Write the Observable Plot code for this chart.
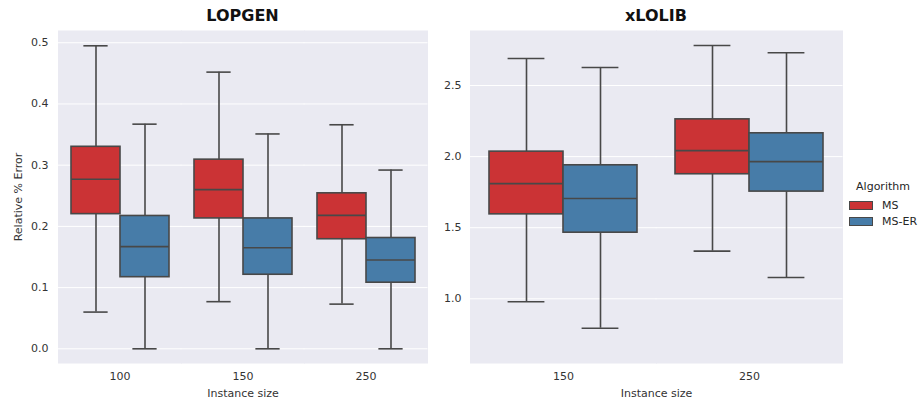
<!DOCTYPE html>
<html>
<head>
<meta charset="utf-8">
<script src="https://cdn.jsdelivr.net/npm/d3@7"></script>
<script src="https://cdn.jsdelivr.net/npm/@observablehq/plot@0.6"></script>
<style>
  body { margin: 0; background: white; font-family: "DejaVu Sans", sans-serif; }
  #wrap { position: relative; width: 919px; height: 402px; overflow: hidden; }
  .panel { position: absolute; top: 0; }
  .title { position: absolute; top: 6px; font: bold 16px "DejaVu Sans", sans-serif; line-height: 20px; text-align: center; color: #111; }
  .legend-title { position: absolute; left: 848px; top: 180px; width: 70px; text-align: center; font-size: 11px; line-height: 14px; color: #262626; }
  .legend-row { position: absolute; left: 849px; height: 14px; display: flex; align-items: center; font-size: 11px; color: #262626; }
  .sw { width: 24px; height: 9px; box-sizing: border-box; border: 1px solid #484848; margin-right: 9px; }
</style>
</head>
<body>
<div id="wrap"></div>
<script>
// ---- data ----
const algorithms = ["MS", "MS-ER"];
const lopgenSizes = ["100", "150", "250"];
const xlolibSizes = ["150", "250"];
// [lower whisker, Q1, median, Q3, upper whisker]
const lopgenMS   = [[0.060, 0.220, 0.277, 0.330, 0.495],
                    [0.077, 0.213, 0.260, 0.309, 0.452],
                    [0.073, 0.179, 0.218, 0.254, 0.366]];
const lopgenMSER = [[0.000, 0.117, 0.167, 0.217, 0.367],
                    [0.000, 0.121, 0.165, 0.213, 0.351],
                    [0.000, 0.108, 0.145, 0.181, 0.292]];
const xlolibMS   = [[0.979, 1.594, 1.810, 2.035, 2.690],
                    [1.335, 1.876, 2.042, 2.262, 2.781]];
const xlolibMSER = [[0.793, 1.465, 1.705, 1.939, 2.627],
                    [1.150, 1.754, 1.965, 2.164, 2.730]];
const lopgenTicks = [0.0, 0.1, 0.2, 0.3, 0.4, 0.5];
const xlolibTicks = [1.0, 1.5, 2.0, 2.5];
const titles = ["LOPGEN", "xLOLIB"];
const yTitle = "Relative % Error";
const xTitle = "Instance size";
const legendTitle = "Algorithm";

// ---- style ----
const colors = ["#cb3335", "#477ca8"];
const bg = "#eaeaf2";
const lineColor = "#484848";

function panel({sizes, ms, mser, domain, ticks, width, marginLeft, marginRight, yLabel, tickPadding}) {
  const rows = [];
  sizes.forEach((s, i) => {
    [[algorithms[0], ms[i]], [algorithms[1], mser[i]]].forEach(([alg, v]) =>
      rows.push({size: s, alg, lo: v[0], q1: v[1], med: v[2], q3: v[3], hi: v[4]}));
  });
  const frameW = width - marginLeft - marginRight;
  const inset = frameW / sizes.length * 0.4 / 4;
  const common = {fx: "size", x: "alg", stroke: lineColor, strokeWidth: 1.6};
  return Plot.plot({
    width, height: 402,
    marginTop: 30, marginBottom: 39, marginLeft, marginRight,
    style: {fontFamily: "DejaVu Sans", fontSize: "11px", color: "#333", background: "white", overflow: "visible"},
    fx: {domain: sizes, padding: 0, axis: "bottom", tickSize: 0, tickPadding: 9,
         label: xTitle, labelAnchor: "center", labelOffset: 33, labelArrow: "none"},
    x: {domain: algorithms, paddingInner: 0, paddingOuter: 0.25, axis: null},
    y: {domain, ticks, tickFormat: ".1f", tickSize: 0, tickPadding,
        label: yLabel, labelAnchor: "center", labelOffset: 44, labelArrow: "none"},
    color: {domain: algorithms, range: colors},
    marks: [
      Plot.frame({fill: bg, stroke: "none", insetLeft: -0.5, insetRight: -0.5}),
      Plot.ruleY(ticks, {stroke: "white", strokeWidth: 1, insetLeft: -0.5, insetRight: -0.5}),
      Plot.ruleX(rows, {...common, y1: "lo", y2: "q1"}),
      Plot.ruleX(rows, {...common, y1: "q3", y2: "hi"}),
      Plot.tickY(rows, {...common, y: "lo", insetLeft: inset, insetRight: inset}),
      Plot.tickY(rows, {...common, y: "hi", insetLeft: inset, insetRight: inset}),
      Plot.barY(rows, {...common, y1: "q1", y2: "q3", fill: "alg"}),
      Plot.tickY(rows, {...common, y: "med"})
    ]
  });
}

const wrap = document.getElementById("wrap");

const left = panel({sizes: lopgenSizes, ms: lopgenMS, mser: lopgenMSER,
  domain: [-0.024, 0.52], ticks: lopgenTicks, width: 440, marginLeft: 57, marginRight: 12,
  yLabel: yTitle, tickPadding: 10});
left.classList.add("panel"); left.style.left = "0px";
wrap.appendChild(left);

const right = panel({sizes: xlolibSizes, ms: xlolibMS, mser: xlolibMSER,
  domain: [0.545, 2.887], ticks: xlolibTicks, width: 479, marginLeft: 30, marginRight: 77,
  yLabel: null, tickPadding: 9});
right.classList.add("panel"); right.style.left = "440px";
wrap.appendChild(right);

// titles
[[titles[0], 57, 371], [titles[1], 470, 372]].forEach(([t, l, w]) => {
  const d = document.createElement("div");
  d.className = "title"; d.textContent = t;
  d.style.left = l + "px"; d.style.width = w + "px";
  wrap.appendChild(d);
});

// legend
const lt = document.createElement("div");
lt.className = "legend-title"; lt.textContent = legendTitle;
wrap.appendChild(lt);
algorithms.forEach((a, i) => {
  const r = document.createElement("div");
  r.className = "legend-row";
  r.style.top = (198 + i * 16) + "px";
  const sw = document.createElement("div");
  sw.className = "sw"; sw.style.background = colors[i];
  const tx = document.createElement("span"); tx.textContent = a;
  r.appendChild(sw); r.appendChild(tx);
  wrap.appendChild(r);
});
</script>
</body>
</html>
